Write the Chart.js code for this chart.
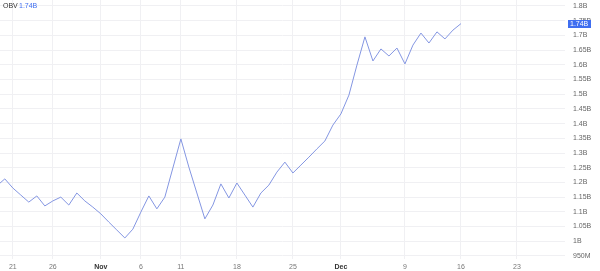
<!DOCTYPE html>
<html>
<head>
<meta charset="utf-8">
<script src="https://cdn.jsdelivr.net/npm/chart.js@4.4.0/dist/chart.umd.min.js"></script>
<style>
  html, body { margin: 0; padding: 0; background: #fff; }
  #wrap { width: 600px; height: 271px; position: relative; }
</style>
</head>
<body>
<div id="wrap"><canvas id="obv"></canvas></div>
<script>
// daily OBV, in billions, from Oct 19 to Dec 16
const startDate = '2023-10-19';
const obvOct = [1.188, 1.212, 1.181, 1.157, 1.133, 1.154, 1.120, 1.137, 1.150, 1.123, 1.164, 1.137, 1.116];
const obvNov = [1.093, 1.065, 1.038, 1.011, 1.041, 1.099, 1.154, 1.110, 1.150, 1.249, 1.348, 1.252, 1.164, 1.076, 1.123,
                1.195, 1.147, 1.198, 1.157, 1.116, 1.164, 1.191, 1.235, 1.269, 1.232, 1.259, 1.286, 1.314, 1.341, 1.395];
const obvDec = [1.433, 1.497, 1.599, 1.695, 1.613, 1.654, 1.630, 1.657, 1.603, 1.667, 1.708, 1.674, 1.712, 1.688, 1.718, 1.740];

// x axis ticks (dates) and their labels
const tickDates = ['2023-10-21', '2023-10-26', '2023-11-01', '2023-11-06', '2023-11-11', '2023-11-18',
                   '2023-11-25', '2023-12-01', '2023-12-09', '2023-12-16', '2023-12-23'];
const tickLabels = ['21', '26', 'Nov', '6', '11', '18', '25', 'Dec', '9', '16', '23'];
// y axis ticks, in billions
const yTicks = [0.95, 1, 1.05, 1.1, 1.15, 1.2, 1.25, 1.3, 1.35, 1.4, 1.45, 1.5, 1.55, 1.6, 1.65, 1.7, 1.75, 1.8];
const lastLabel = '1.74B';

const DAY = 864e5;
const t0 = Date.parse(startDate);
const dayOf = (d) => (Date.parse(d) - t0) / DAY;

const values = obvOct.concat(obvNov, obvDec);
const points = values.map((v, i) => ({ x: i, y: v * 1e9 }));
const tickDays = tickDates.map(dayOf);

const lineColor = '#8496e2';
const blue = '#3f6ef0';
const FONT = '"Liberation Sans", Arial, sans-serif';

function fmt(v) {
    if (v >= 1e9) return (Math.round(v / 1e7) / 100) + 'B';
    return Math.round(v / 1e6) + 'M';
}

const overlay = {
    id: 'overlay',
    afterDraw(chart) {
        const ctx = chart.ctx;
        const y = chart.scales.y;
        const last = values[values.length - 1] * 1e9;
        const py = y.getPixelForValue(last);
        ctx.save();
        // last value badge on the axis
        ctx.fillStyle = blue;
        ctx.fillRect(568, Math.round(py) - 4, 23, 8);
        ctx.fillStyle = '#fff';
        ctx.font = '7px ' + FONT;
        ctx.textBaseline = 'middle';
        ctx.textAlign = 'left';
        ctx.fillText(lastLabel, 570, py);
        // legend top left
        ctx.fillStyle = '#333';
        ctx.fillText('OBV', 3, 6.5);
        ctx.fillStyle = blue;
        ctx.fillText(lastLabel, 19, 6.5);
        ctx.restore();
    }
};

new Chart(document.getElementById('obv'), {
    type: 'line',
    data: {
        datasets: [{
            label: 'OBV',
            data: points,
            borderColor: lineColor,
            borderWidth: 1,
            pointRadius: 0,
            tension: 0,
            fill: false
        }]
    },
    options: {
        responsive: true,
        maintainAspectRatio: false,
        animation: false,
        devicePixelRatio: 1,
        layout: { padding: 0 },
        plugins: {
            legend: { display: false },
            tooltip: { enabled: false }
        },
        scales: {
            x: {
                type: 'linear',
                min: 0.4,
                max: 71,
                afterBuildTicks: (scale) => {
                    scale.ticks = tickDays.map(v => ({ value: v }));
                },
                afterFit: (scale) => {
                    scale.height = 12;
                    scale.paddingLeft = 0;
                    scale.paddingRight = 0;
                },
                grid: { color: '#f0f0f3', drawTicks: false },
                border: { display: false },
                ticks: {
                    autoSkip: false,
                    maxRotation: 0,
                    padding: 4,
                    font: (c) => {
                        const lbl = c.tick ? tickLabels[tickDays.indexOf(c.tick.value)] : '';
                        return { size: 7, family: FONT,
                                 weight: (lbl === 'Nov' || lbl === 'Dec') ? 'bold' : 'normal' };
                    },
                    color: (c) => {
                        const lbl = c.tick ? tickLabels[tickDays.indexOf(c.tick.value)] : '';
                        return (lbl === 'Nov' || lbl === 'Dec') ? '#333' : '#777';
                    },
                    callback: (value) => {
                        const i = tickDays.indexOf(value);
                        return i >= 0 ? tickLabels[i] : '';
                    }
                }
            },
            y: {
                position: 'right',
                min: 0.9395e9,
                max: 1.8204e9,
                afterBuildTicks: (scale) => {
                    scale.ticks = yTicks.map(v => ({ value: v * 1e9 }));
                },
                afterFit: (scale) => {
                    scale.width = 35;
                    scale.paddingTop = 0;
                    scale.paddingBottom = 0;
                },
                grid: { color: '#f0f0f3', drawTicks: false },
                border: { display: false },
                ticks: {
                    padding: 8,
                    color: '#666',
                    font: { size: 7, family: FONT },
                    callback: (v) => fmt(v)
                }
            }
        }
    },
    plugins: [overlay]
});
</script>
</body>
</html>
